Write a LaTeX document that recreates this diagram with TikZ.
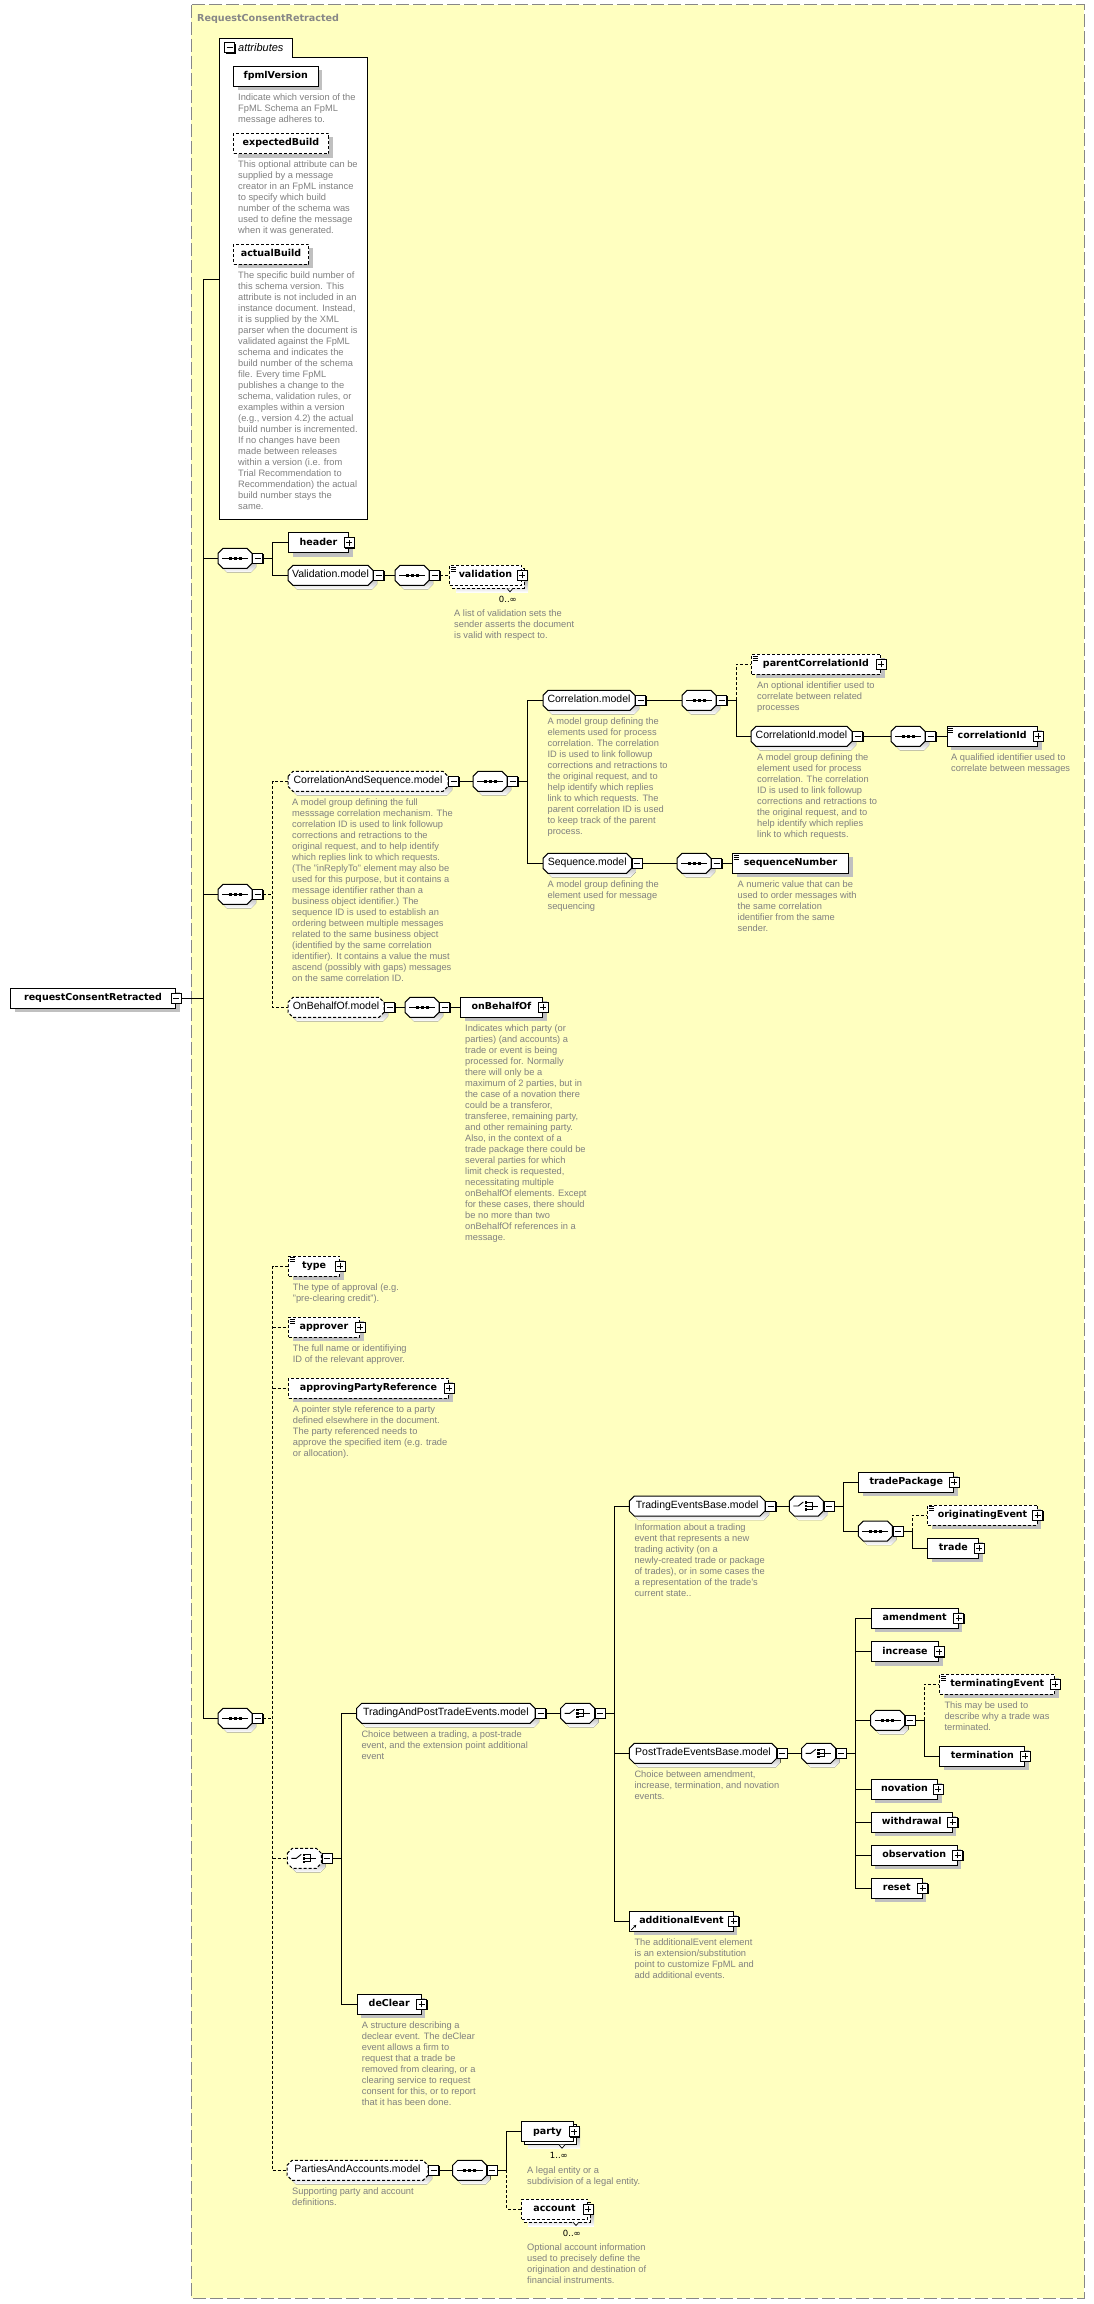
\documentclass[tikz,border=0pt]{standalone}
\usepackage{fontspec}
\setmainfont{Liberation Sans}
\newfontfamily\verdana{DejaVu Sans}
\usetikzlibrary{shadows,arrows.meta}

\definecolor{paper}{RGB}{255,255,192}
\definecolor{shade}{RGB}{192,192,192}
\definecolor{descgrey}{RGB}{128,128,128}
\definecolor{framegrey}{RGB}{135,135,135}

\tikzset{
  conn/.style={line width=1pt},
  dsh/.style={line width=1pt, dash pattern=on 3pt off 2pt},
  opt/.style={dash pattern=on 3pt off 2pt},
  elbox/.style={draw, line width=1pt, fill=white, anchor=west, minimum height=20pt, inner sep=0pt,
    text height=7pt, text depth=2pt, font=\verdana\bfseries\fontsize{9.5}{11}\selectfont},
  elem/.style={elbox, drop shadow={shadow xshift=4pt, shadow yshift=-4pt, fill=shade, opacity=1}},
  mdl/.style={minimum height=20pt, inner sep=0pt, text height=7.5pt, text depth=2.2pt, font=\fontsize{10.5}{12}\selectfont},
  cmp/.style={minimum width=34pt, minimum height=20pt, inner sep=0pt},
  sgn/.style={draw, line width=1pt, fill=white, minimum size=10pt, inner sep=0pt,
    drop shadow={shadow xshift=1pt, shadow yshift=-1pt, fill=black, opacity=1}},
  plusbox/.style={sgn, path picture={\draw[line width=.8pt]
    ([xshift=-3pt]path picture bounding box.center) -- ([xshift=3pt]path picture bounding box.center)
    ([yshift=-3pt]path picture bounding box.center) -- ([yshift=3pt]path picture bounding box.center);}},
  minusbox/.style={sgn, path picture={\draw[line width=.8pt]
    ([xshift=-3pt]path picture bounding box.center) -- ([xshift=3pt]path picture bounding box.center);}},
  desc/.style={anchor=north west, inner sep=0pt, align=left, text=descgrey, font=\fontsize{9.3}{11}\selectfont},
  occ/.style={anchor=east, inner sep=0pt, font=\verdana\fontsize{8.5}{10}\selectfont},
}

\newcommand\signgap{\hspace{8pt}}
% three bars of a simple-content element
\newcommand\simpleicon[1]{\draw[line width=.6pt]
  ([xshift=1.5pt,yshift=-2pt]#1.north west) -- ++(5,0)
  ([xshift=1.5pt,yshift=-4pt]#1.north west) -- ++(5,0)
  ([xshift=1.5pt,yshift=-6pt]#1.north west) -- ++(5,0);}
% octagon with its shadow: [style]{x0}{x1}{cy}
\newcommand\octshape[4][]{%
  \fill[shade,shift={(4,4)}] (#2,{#4-5}) -- ({#2+5},{#4-10}) -- ({#3-5},{#4-10}) -- (#3,{#4-5})
    -- (#3,{#4+5}) -- ({#3-5},{#4+10}) -- ({#2+5},{#4+10}) -- (#2,{#4+5}) -- cycle;
  \filldraw[fill=white,line width=1pt,#1] (#2,{#4-5}) -- ({#2+5},{#4-10}) -- ({#3-5},{#4-10}) -- (#3,{#4-5})
    -- (#3,{#4+5}) -- ({#3-5},{#4+10}) -- ({#2+5},{#4+10}) -- (#2,{#4+5}) -- cycle;}
% model group: [style]{name}{x0}{x1}{cy}{text}
\newcommand\mdlbox[6][]{\octshape[#1]{#3}{#4}{#5}
  \node[mdl, minimum width={#4-#3}] (#2) at ({(#3+#4)/2},#5) {#6};
  \node[minusbox, anchor=west] (#2-s) at (#2.east) {};}
% sequence compositor: [style]{name}{x0}{cy}
\newcommand\seqbox[4][]{\octshape[#1]{#3}{#3+34}{#4}
  \draw[line width=1pt] ({#3+4},#4) -- ({#3+30},#4);
  \foreach \q in {12,17,22} \fill ({#3+\q-1.5},{#4-1.5}) rectangle ++(3,3);
  \node[cmp] (#2) at ({#3+17},#4) {};
  \node[minusbox, anchor=west] (#2-s) at (#2.east) {};}
% choice compositor: [style]{name}{x0}{cy}
\newcommand\choicebox[4][]{\octshape[#1]{#3}{#3+34}{#4}
  \draw[line width=.9pt] ({#3+4},#4) -- ({#3+9},#4) -- ({#3+14},{#4-4});
  \foreach \q in {-3.5,0,3.5} \fill ({#3+15.5},{#4+\q-1.2}) rectangle ++(2.4,2.4);
  \draw[line width=.9pt] ({#3+18},{#4-3.5}) -- ({#3+23},{#4-3.5}) -- ({#3+23},{#4+3.5}) -- ({#3+18},{#4+3.5})
    ({#3+18},#4) -- ({#3+29},#4);
  \node[cmp] (#2) at ({#3+17},#4) {};
  \node[minusbox, anchor=west] (#2-s) at (#2.east) {};}
% back box of a repeated element: [style]{x0}{x1}{cy}
\newcommand\stackback[4][]{%
  \fill[shade] ({#2+7},{#4-3}) rectangle ({#3+7},{#4+17});
  \filldraw[fill=white,line width=1pt,#1] ({#2+3},{#4-7}) rectangle ({#3+3},{#4+13});
  \filldraw[fill=white,line width=.7pt] ({#3-14},{#4+13}) -- ({#3-11},{#4+16.5}) -- ({#3-8},{#4+13});}

\begin{document}
\begin{tikzpicture}[x=1pt,y=-1pt]
\useasboundingbox (0,0) rectangle (1093,2304);
\draw[framegrey, line width=1pt, dash pattern=on 13pt off 4pt, fill=paper] (191,5) rectangle (1084,2298);
\node[anchor=west, inner sep=0pt, text=framegrey, font=\verdana\bfseries\fontsize{9.6}{11}\selectfont] (title) at (197,18.6) {RequestConsentRetracted};

% root
\node[elem, minimum width=165pt] (rcr) at (10,998.3) {requestConsentRetracted\signgap};
\node[minusbox] (rcr-s) at (rcr.east) {};

% attributes
\filldraw[fill=white, line width=1pt] (219,519) -- (219,38.2) -- (292.5,38.2) -- (292.5,57.4) -- (367,57.4) -- (367,519) -- cycle;
\node[minusbox] (attr-s) at (229.5,47.8) {};
\node[anchor=west, inner sep=0pt, font=\itshape\fontsize{11}{13}\selectfont] (attr-l) at (238,47.5) {attributes};
\coordinate (attr) at (219,279.4);
\node[elem, minimum width=84.5pt] (fpmlVersion) at (233,76.2) {fpmlVersion};
\node[desc] (fpmlVersion-d) at (238,93.7) {Indicate which version of the\\FpML Schema an FpML\\message adheres to.};
\node[elem, opt, minimum width=95pt] (expectedBuild) at (233,143.5) {expectedBuild};
\node[desc] (expectedBuild-d) at (238,161) {This optional attribute can be\\supplied by a message\\creator in an FpML instance\\to specify which build\\number of the schema was\\used to define the message\\when it was generated.};
\node[elem, opt, minimum width=75pt] (actualBuild) at (233,254) {actualBuild};
\node[desc] (actualBuild-d) at (238,271.5) {The specific build number of\\this schema version. This\\attribute is not included in an\\instance document. Instead,\\it is supplied by the XML\\parser when the document is\\validated against the FpML\\schema and indicates the\\build number of the schema\\file. Every time FpML\\publishes a change to the\\schema, validation rules, or\\examples within a version\\(e.g., version 4.2) the actual\\build number is incremented.\\If no changes have been\\made between releases\\within a version (i.e. from\\Trial Recommendation to\\Recommendation) the actual\\build number stays the\\same.};

% header and validation
\seqbox{seqA}{218}{558.3}
\node[elem, minimum width=60pt] (header) at (288,542.5) {header\signgap};
\node[plusbox] (header-s) at (header.east) {};
\mdlbox{valModel}{288}{373}{575.3}{Validation.model}
\seqbox{seqVal}{395}{575.3}
\stackback[opt]{449}{521}{575.3}
\node[elbox, opt, minimum width=72pt] (validation) at (449,575.3) {validation\signgap};
\simpleicon{validation}
\node[plusbox] (validation-s) at (validation.east) {};
\node[occ] (validation-o) at (517,599.3) {0..∞};
\node[desc] (validation-d) at (454,609.8) {A list of validation sets the\\sender asserts the document\\is valid with respect to.};

% correlation and sequence
\seqbox{seqB}{218}{894.3}
\mdlbox[opt]{csModel}{288}{448}{781.3}{CorrelationAndSequence.model}
\node[desc] (csModel-d) at (292,798.8) {A model group defining the full\\messsage correlation mechanism. The\\correlation ID is used to link followup\\corrections and retractions to the\\original request, and to help identify\\which replies link to which requests.\\(The "inReplyTo" element may also be\\used for this purpose, but it contains a\\message identifier rather than a\\business object identifier.) The\\sequence ID is used to establish an\\ordering between multiple messages\\related to the same business object\\(identified by the same correlation\\identifier). It contains a value the must\\ascend (possibly with gaps) messages\\on the same correlation ID.};
\seqbox{seqCS}{473}{781.3}
\mdlbox{corrModel}{543}{635}{700.3}{Correlation.model}
\node[desc] (corrModel-d) at (547.4,717.8) {A model group defining the\\elements used for process\\correlation. The correlation\\ID is used to link followup\\corrections and retractions to\\the original request, and to\\help identify which replies\\link to which requests. The\\parent correlation ID is used\\to keep track of the parent\\process.};
\seqbox{seqCorr}{682}{700.3}
\node[elem, opt, minimum width=129pt] (parentCorrelationId) at (751,664.3) {parentCorrelationId\signgap};
\simpleicon{parentCorrelationId}
\node[plusbox] (parentCorrelationId-s) at (parentCorrelationId.east) {};
\node[desc] (parentCorrelationId-d) at (757,681.8) {An optional identifier used to\\correlate between related\\processes};
\mdlbox{corrIdModel}{751}{852}{736.3}{CorrelationId.model}
\node[desc] (corrIdModel-d) at (757,753.8) {A model group defining the\\element used for process\\correlation. The correlation\\ID is used to link followup\\corrections and retractions to\\the original request, and to\\help identify which replies\\link to which requests.};
\seqbox{seqCorrId}{891}{736.3}
\node[elem, minimum width=90.5pt] (correlationId) at (946.5,736.3) {correlationId\signgap};
\simpleicon{correlationId}
\node[plusbox] (correlationId-s) at (correlationId.east) {};
\node[desc] (correlationId-d) at (951,753.8) {A qualified identifier used to\\correlate between messages};
\mdlbox{seqModel}{543}{631.5}{863.3}{Sequence.model}
\node[desc] (seqModel-d) at (547.4,880.8) {A model group defining the\\element used for message\\sequencing};
\seqbox{seqSeq}{677}{863.3}
\node[elem, minimum width=116pt] (sequenceNumber) at (732,863.3) {sequenceNumber};
\simpleicon{sequenceNumber}
\node[desc] (sequenceNumber-d) at (737.5,880.8) {A numeric value that can be\\used to order messages with\\the same correlation\\identifier from the same\\sender.};
\mdlbox[opt]{oboModel}{288}{384}{1007.3}{OnBehalfOf.model}
\seqbox{seqObo}{405}{1007.3}
\node[elem, minimum width=82pt] (onBehalfOf) at (460,1007.3) {onBehalfOf\signgap};
\node[plusbox] (onBehalfOf-s) at (onBehalfOf.east) {};
\node[desc] (onBehalfOf-d) at (465,1024.8) {Indicates which party (or\\parties) (and accounts) a\\trade or event is being\\processed for. Normally\\there will only be a\\maximum of 2 parties, but in\\the case of a novation there\\could be a transferor,\\transferee, remaining party,\\and other remaining party.\\Also, in the context of a\\trade package there could be\\several parties for which\\limit check is requested,\\necessitating multiple\\onBehalfOf elements. Except\\for these cases, there should\\be no more than two\\onBehalfOf references in a\\message.};

% approval part
\seqbox{seqC}{218}{1718.3}
\node[elem, opt, minimum width=51pt] (type) at (288,1266) {type\signgap};
\simpleicon{type}
\node[plusbox] (type-s) at (type.east) {};
\node[desc] (type-d) at (292.7,1283.5) {The type of approval (e.g.\\"pre-clearing credit").};
\node[elem, opt, minimum width=71pt] (approver) at (288,1327.3) {approver\signgap};
\simpleicon{approver}
\node[plusbox] (approver-s) at (approver.east) {};
\node[desc] (approver-d) at (292.7,1344.8) {The full name or identifiying\\ID of the relevant approver.};
\node[elem, opt, minimum width=160pt] (approvingPartyReference) at (288,1388.3) {approvingPartyReference\signgap};
\node[plusbox] (approvingPartyReference-s) at (approvingPartyReference.east) {};
\node[desc] (approvingPartyReference-d) at (292.7,1405.8) {A pointer style reference to a party\\defined elsewhere in the document.\\The party referenced needs to\\approve the specified item (e.g. trade\\or allocation).};
\choicebox[opt]{choiceA}{287.3}{1858.3}
\mdlbox{tpModel}{356.7}{535}{1713.3}{TradingAndPostTradeEvents.model}
\node[desc] (tpModel-d) at (361.3,1730.8) {Choice between a trading, a post-trade\\event, and the extension point additional\\event};
\choicebox{choiceTP}{560.7}{1713.3}
\mdlbox{tebModel}{629.3}{765}{1506}{TradingEventsBase.model}
\node[desc] (tebModel-d) at (634.3,1523.5) {Information about a trading\\event that represents a new\\trading activity (on a\\newly-created trade or package\\of trades), or in some cases the\\a representation of the trade's\\current state..};
\choicebox{choiceTEB}{789.3}{1506}
\node[elem, minimum width=95pt] (tradePackage) at (858.3,1482.3) {tradePackage\signgap};
\node[plusbox] (tradePackage-s) at (tradePackage.east) {};
\seqbox{seqTEB}{858.3}{1531}
\node[elem, opt, minimum width=109.4pt] (originatingEvent) at (927.3,1515) {originatingEvent\signgap};
\simpleicon{originatingEvent}
\node[plusbox] (originatingEvent-s) at (originatingEvent.east) {};
\node[elem, minimum width=51pt] (trade) at (927.3,1548.3) {trade\signgap};
\node[plusbox] (trade-s) at (trade.east) {};
\mdlbox{ptebModel}{629.3}{776.7}{1753.3}{PostTradeEventsBase.model}
\node[desc] (ptebModel-d) at (634.3,1770.8) {Choice between amendment,\\increase, termination, and novation\\events.};
\choicebox{choicePTEB}{801.7}{1753.3}
\node[elem, minimum width=87pt] (amendment) at (870.7,1618.3) {amendment\signgap};
\node[plusbox] (amendment-s) at (amendment.east) {};
\node[elem, minimum width=67.6pt] (increase) at (870.7,1651.5) {increase\signgap};
\node[plusbox] (increase-s) at (increase.east) {};
\seqbox{seqTerm}{870.7}{1720.3}
\node[elem, opt, minimum width=114.7pt] (terminatingEvent) at (939.3,1684.3) {terminatingEvent\signgap};
\simpleicon{terminatingEvent}
\node[plusbox] (terminatingEvent-s) at (terminatingEvent.east) {};
\node[desc] (terminatingEvent-d) at (944.3,1701.8) {This may be used to\\describe why a trade was\\terminated.};
\node[elem, minimum width=85pt] (termination) at (939.3,1756.3) {termination\signgap};
\node[plusbox] (termination-s) at (termination.east) {};
\node[elem, minimum width=66.6pt] (novation) at (870.7,1789.3) {novation\signgap};
\node[plusbox] (novation-s) at (novation.east) {};
\node[elem, minimum width=81pt] (withdrawal) at (870.7,1822.3) {withdrawal\signgap};
\node[plusbox] (withdrawal-s) at (withdrawal.east) {};
\node[elem, minimum width=86pt] (observation) at (870.7,1855.3) {observation\signgap};
\node[plusbox] (observation-s) at (observation.east) {};
\node[elem, minimum width=51pt] (reset) at (870.7,1888.3) {reset\signgap};
\node[plusbox] (reset-s) at (reset.east) {};
\node[elem, minimum width=103.4pt] (additionalEvent) at (629.3,1921.3) {additionalEvent\signgap};
\draw[line width=.8pt, -{Stealth[length=3pt,width=3pt]}] ([xshift=2pt,yshift=2pt]additionalEvent.south west) -- ++(5,-5);
\node[plusbox] (additionalEvent-s) at (additionalEvent.east) {};
\node[desc] (additionalEvent-d) at (634.3,1938.8) {The additionalEvent element\\is an extension/substitution\\point to customize FpML and\\add additional events.};
\node[elem, minimum width=64pt] (deClear) at (356.7,2004.3) {deClear\signgap};
\node[plusbox] (deClear-s) at (deClear.east) {};
\node[desc] (deClear-d) at (361.7,2021.8) {A structure describing a\\declear event. The deClear\\event allows a firm to\\request that a trade be\\removed from clearing, or a\\clearing service to request\\consent for this, or to report\\that it has been done.};
\mdlbox[opt]{paModel}{287}{428}{2170.3}{PartiesAndAccounts.model}
\node[desc] (paModel-d) at (292,2187.8) {Supporting party and account\\definitions.};
\seqbox{seqPA}{452.7}{2170.3}
\stackback{521}{573}{2131.7}
\node[elbox, minimum width=52pt] (party) at (521,2131.7) {party\signgap};
\node[plusbox] (party-s) at (party.east) {};
\node[occ] (party-o) at (568,2155) {1..∞};
\node[desc] (party-d) at (527,2166.2) {A legal entity or a\\subdivision of a legal entity.};
\stackback[opt]{521}{587}{2209}
\node[elbox, opt, minimum width=66pt] (account) at (521,2209) {account\signgap};
\node[plusbox] (account-s) at (account.east) {};
\node[occ] (account-o) at (581,2233) {0..∞};
\node[desc] (account-d) at (527,2243.5) {Optional account information\\used to precisely define the\\origination and destination of\\financial instruments.};

% connectors
\coordinate (spine) at (203.5,998.3);
\draw[conn] (rcr-s.east) -- (spine);
\draw[conn] (attr -| spine) -- (attr);
\draw[conn] (attr -| spine) |- (seqC.west);
\draw[conn] (seqA.west -| spine) -- (seqA.west);
\draw[conn] (seqB.west -| spine) -- (seqB.west);

\coordinate (brA) at (272.5,558.3);
\draw[conn] (seqA-s.east) -- (brA) |- (header.west);
\draw[conn] (brA) |- (valModel.west);
\draw[conn] (valModel-s.east) -- (seqVal.west);
\draw[dsh] (seqVal-s.east) -- (validation.west);

\coordinate (brB) at (272.5,894.3);
\draw[dsh] (seqB-s.east) -- (brB);
\draw[dsh] (csModel.west) -| (brB) |- (oboModel.west);
\draw[conn] (csModel-s.east) -- (seqCS.west);
\coordinate (brCS) at (527.5,781.3);
\draw[conn] (seqCS-s.east) -- (brCS);
\draw[conn] (corrModel.west) -| (brCS) |- (seqModel.west);
\draw[conn] (corrModel-s.east) -- (seqCorr.west);
\coordinate (brCorr) at (736,700.3);
\draw[conn] (seqCorr-s.east) -- (brCorr);
\draw[dsh] (brCorr) |- (parentCorrelationId.west);
\draw[conn] (brCorr) |- (corrIdModel.west);
\draw[conn] (corrIdModel-s.east) -- (seqCorrId.west);
\draw[conn] (seqCorrId-s.east) -- (correlationId.west);
\draw[conn] (seqModel-s.east) -- (seqSeq.west);
\draw[conn] (seqSeq-s.east) -- (sequenceNumber.west);
\draw[conn] (oboModel-s.east) -- (seqObo.west);
\draw[conn] (seqObo-s.east) -- (onBehalfOf.west);

\coordinate (brC) at (272.5,1718.3);
\draw[dsh] (seqC-s.east) -- (brC);
\draw[dsh] (type.west) -| (brC) |- (paModel.west);
\foreach \n in {approver,approvingPartyReference,choiceA}
  \draw[dsh] (\n.west -| brC) -- (\n.west);
\coordinate (brCh) at (341.3,1858.3);
\draw[conn] (choiceA-s.east) -- (brCh);
\draw[conn] (tpModel.west) -| (brCh) |- (deClear.west);
\draw[conn] (tpModel-s.east) -- (choiceTP.west);
\coordinate (brTP) at (614.3,1713.3);
\draw[conn] (choiceTP-s.east) -- (brTP);
\draw[conn] (tebModel.west) -| (brTP) |- (additionalEvent.west);
\draw[conn] (ptebModel.west -| brTP) -- (ptebModel.west);
\draw[conn] (tebModel-s.east) -- (choiceTEB.west);
\coordinate (brTEB) at (843.3,1506);
\draw[conn] (choiceTEB-s.east) -- (brTEB);
\draw[conn] (tradePackage.west) -| (brTEB) |- (seqTEB.west);
\coordinate (brOT) at (912.3,1531);
\draw[conn] (seqTEB-s.east) -- (brOT);
\draw[dsh] (brOT) |- (originatingEvent.west);
\draw[conn] (brOT) |- (trade.west);
\draw[conn] (ptebModel-s.east) -- (choicePTEB.west);
\coordinate (brPT) at (855.3,1753.3);
\draw[conn] (choicePTEB-s.east) -- (brPT);
\draw[conn] (amendment.west) -| (brPT) |- (reset.west);
\foreach \n in {increase,seqTerm,novation,withdrawal,observation}
  \draw[conn] (\n.west -| brPT) -- (\n.west);
\coordinate (brTerm) at (924.3,1720.3);
\draw[conn] (seqTerm-s.east) -- (brTerm);
\draw[dsh] (brTerm) |- (terminatingEvent.west);
\draw[conn] (brTerm) |- (termination.west);
\draw[conn] (paModel-s.east) -- (seqPA.west);
\coordinate (brPA) at (506.7,2170.3);
\draw[conn] (seqPA-s.east) -- (brPA);
\draw[conn] (brPA) |- (party.west);
\draw[dsh] (brPA) |- (account.west);
\end{tikzpicture}
\end{document}
